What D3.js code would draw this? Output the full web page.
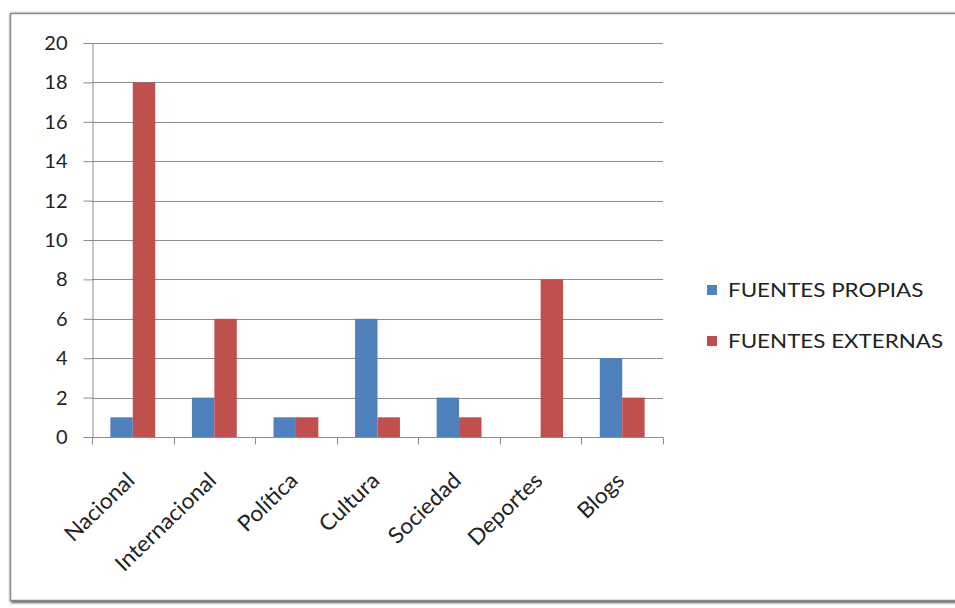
<!DOCTYPE html>
<html>
<head>
<meta charset="utf-8">
<script src="https://cdn.jsdelivr.net/npm/d3@7"></script>
<style>
  html, body { margin: 0; padding: 0; background: #ffffff; }
  svg { display: block; }
  text { font-family: Lato, "Open Sans", sans-serif; fill: #222222; }
</style>
</head>
<body>
<svg id="chart" width="955" height="608"></svg>
<script>
// Chart data
const categories = ["Nacional", "Internacional", "Política", "Cultura", "Sociedad", "Deportes", "Blogs"];
const seriesNames = ["FUENTES PROPIAS", "FUENTES EXTERNAS"];
const fuentesPropias = [1, 2, 1, 6, 2, 0, 4];
const fuentesExternas = [18, 6, 1, 1, 1, 8, 2];
const yTicks = [0, 2, 4, 6, 8, 10, 12, 14, 16, 18, 20];
const colors = ["#4f81bd", "#c0504d"];

const rows = categories.map((c, i) => ({ cat: c, values: [fuentesPropias[i], fuentesExternas[i]] }));

const svg = d3.select("#chart");

// Chart frame with a soft shadow
const defs = svg.append("defs");
const f = defs.append("filter").attr("id", "shadow").attr("x", "-5%").attr("y", "-5%").attr("width", "110%").attr("height", "110%");
f.append("feGaussianBlur").attr("in", "SourceAlpha").attr("stdDeviation", 1.5);
f.append("feOffset").attr("dx", 1).attr("dy", 1).attr("result", "b");
const m = f.append("feMerge");
m.append("feMergeNode").attr("in", "b");
m.append("feMergeNode").attr("in", "SourceGraphic");

svg.append("rect")
  .attr("x", 10.5).attr("y", 13.5).attr("width", 960).attr("height", 587)
  .attr("fill", "#ffffff").attr("stroke", "#8a8a8a").attr("stroke-width", 1.5)
  .attr("filter", "url(#shadow)");

const plot = { left: 92, right: 663, top: 43, bottom: 437 };

const x = d3.scaleBand().domain(categories).range([plot.left, plot.right]).paddingInner(0.45).paddingOuter(0.225);
const xs = d3.scaleBand().domain([0, 1]).range([0, x.bandwidth()]);
const y = d3.scaleLinear().domain([0, 20]).range([plot.bottom, plot.top]);

// Horizontal gridlines
svg.append("g").selectAll("line").data(yTicks.filter(t => t > 0)).join("line")
  .attr("x1", plot.left).attr("x2", plot.right)
  .attr("y1", d => Math.round(y(d)) + 0.5).attr("y2", d => Math.round(y(d)) + 0.5)
  .attr("stroke", "#8c8c8c").attr("stroke-width", 1);

// Y axis
const yAxis = svg.append("g")
  .attr("transform", `translate(${plot.left + 0.5},0)`)
  .call(d3.axisLeft(y).tickValues(yTicks).tickSize(9).tickPadding(16).tickFormat(d3.format("d")));
yAxis.select(".domain").attr("stroke", "#8c8c8c");
yAxis.selectAll(".tick line").attr("stroke", "#8c8c8c");
yAxis.selectAll("text").attr("font-size", 20).style("font-family", "Lato, sans-serif").attr("fill", "#222222");

// Bars
svg.append("g").selectAll("g").data(rows).join("g")
  .attr("transform", d => `translate(${x(d.cat)},0)`)
  .selectAll("rect").data(d => d.values.map((v, i) => ({ v, i }))).join("rect")
  .attr("x", d => xs(d.i))
  .attr("width", xs.bandwidth())
  .attr("y", d => y(d.v))
  .attr("height", d => y(0) - y(d.v))
  .attr("fill", d => colors[d.i]);

// X axis with ticks between categories
const step = x.step();
const xAxis = svg.append("g").attr("transform", `translate(0,${plot.bottom + 0.5})`);
xAxis.append("line").attr("x1", plot.left).attr("x2", plot.right).attr("stroke", "#8c8c8c");
xAxis.selectAll("line.tk").data(d3.range(categories.length + 1)).join("line")
  .attr("class", "tk")
  .attr("x1", i => Math.round(plot.left + i * step) + 0.5).attr("x2", i => Math.round(plot.left + i * step) + 0.5)
  .attr("y1", 0).attr("y2", 7).attr("stroke", "#8c8c8c");

xAxis.selectAll("text").data(categories).join("text")
  .attr("transform", d => `translate(${x(d) + x.bandwidth() / 2 - 2},${39}) rotate(-44) scale(1.04,1)`)
  .attr("text-anchor", "end")
  .attr("dy", "0.35em")
  .attr("font-size", 22)
  .text(d => d);

// Legend
const legend = svg.append("g").attr("transform", "translate(707,0)");
const ly = [290, 341];
seriesNames.forEach((name, i) => {
  legend.append("rect").attr("x", 0).attr("y", ly[i] - 5).attr("width", 10).attr("height", 10).attr("fill", colors[i]);
  legend.append("text")
    .attr("transform", `translate(21,${ly[i]}) scale(1.12,1)`)
    .attr("dy", "0.35em").attr("font-size", 20).text(name);
});
</script>
</body>
</html>
